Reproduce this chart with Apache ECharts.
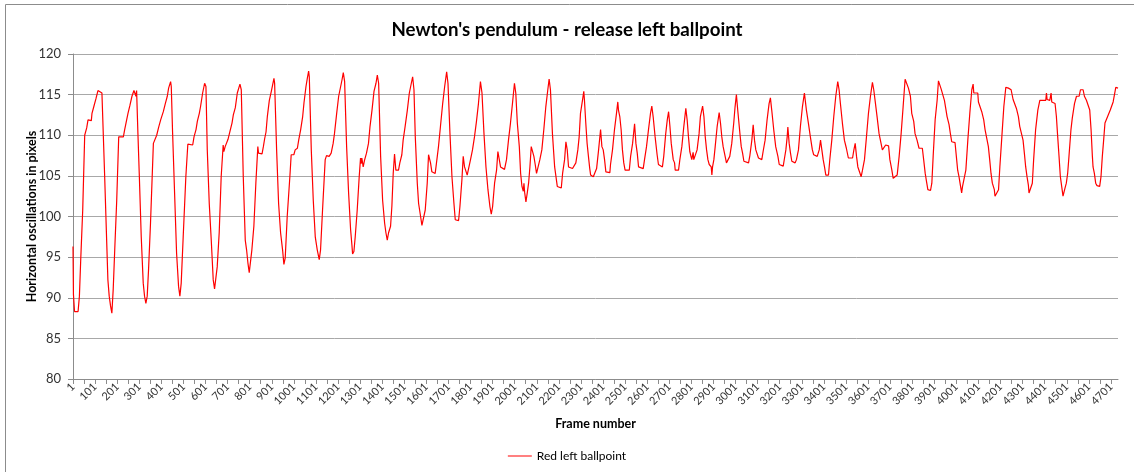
<!DOCTYPE html>
<html>
<head>
<meta charset="utf-8">
<script src="https://cdn.jsdelivr.net/npm/echarts@6/dist/echarts.min.js"></script>
<style>
  html, body { margin: 0; padding: 0; background: #ffffff; }
  #chart { width: 1134px; height: 472px; }
</style>
</head>
<body>
<div id="chart"></div>
<script>
// ---- Data (frame number -> x position in pixels) ----
const FRAME_COUNT = 4733;
const CHART_TITLE = "Newton's pendulum - release left ballpoint";
const SERIES_NAME = "Red left ballpoint";
const X_NAME = "Frame number";
const Y_NAME = "Horizontal oscillations in pixels";

const frames1 = [1,2,3,8,24,30,36,45,54,60,63,69,84,87,96,105,114,123,132,135,144,150,159,165,171,177,183,190,199,208,229,235,241,250,259,268,277,283,286,289,295,301,310,319,325,331,337,343,352,365,374,380,389,398,410,419,428,434,440,443,446,452,461,470,479,485,491,500,512,521,543,549,558,564,573,579,588,597,603,609,618,627,636,642,648,654,663,672,681,684,690,696,703,712,721,727,736,745];
const values1 = [96.3,93.4,90.4,88.3,88.3,90.2,94.7,100.8,110.0,110.2,110.9,111.9,111.8,112.7,113.6,114.5,115.5,115.4,115.2,115.1,105.3,100.0,92.2,90.2,89.0,88.1,91.0,95.9,102.0,109.8,109.8,110.7,111.5,112.7,113.7,114.8,115.5,115.4,114.8,115.5,110.2,105.3,97.5,91.8,90.2,89.3,90.2,93.4,99.2,109.0,109.2,110.0,111.0,111.9,112.9,113.9,114.8,115.8,116.0,116.6,116.0,110.3,102.9,95.5,91.4,90.2,91.8,97.5,104.9,108.9,108.8,109.8,110.7,111.7,112.7,113.6,115.2,116.4,116.0,108.2,101.6,97.1,92.2,91.1,91.2,93.8,98.0,104.9,108.8,108.0,108.6,108.6,109.5,110.5,111.5,112.5,113.4,115.2];

const frames2 = [757,763,772,781,787,793,799,805,811,820,829,838,841,857,863,869,875,881,890,899,905,911,914,923,932,941,950,956,962,971,983,989,1001,1007,1017,1023,1032,1041,1047,1056,1062,1068,1071,1080,1089,1098,1107,1113,1116,1122,1131,1143,1149,1161,1170,1179,1185,1195,1204,1213,1219,1225,1231,1240,1249,1258,1264,1267,1273,1279,1288,1297,1303,1306,1309,1315,1321,1330,1339,1346,1355,1364,1373,1379,1385,1394,1403,1412,1418,1424,1430,1439,1445,1451,1457,1463,1475,1481,1490,1496,1505,1515,1524];
const values2 = [116.3,115.6,104.9,97.1,95.9,94.3,93.1,93.0,95.9,98.8,104.1,108.6,107.8,107.7,108.6,109.6,110.4,112.3,114.3,115.4,116.2,117.0,116.4,108.2,101.6,98.0,95.9,94.1,94.9,100.0,104.9,107.6,107.6,108.2,108.4,109.4,110.7,112.3,114.0,116.0,117.0,117.9,117.2,108.2,102.0,97.5,95.9,95.7,94.7,95.9,100.8,107.0,107.5,107.4,107.8,109.0,110.2,112.7,114.8,116.0,116.8,117.7,116.6,108.6,102.9,98.4,96.5,95.4,95.7,97.5,100.8,104.9,107.2,106.5,107.2,106.1,106.9,107.8,109.0,111.1,113.1,115.4,116.4,117.4,116.4,107.4,102.0,99.2,98.0,97.1,98.0,98.8,101.3,105.3,107.7,105.7,105.7,106.6,107.6,109.4,111.1,113.1,115.2];

const frames3 = [1530,1539,1545,1551,1560,1566,1575,1581,1590,1596,1605,1611,1614,1620,1626,1641,1647,1656,1665,1675,1684,1693,1699,1708,1717,1726,1732,1741,1747,1753,1762,1768,1774,1780,1786,1792,1801,1810,1819,1828,1837,1846,1853,1862,1871,1880,1889,1895,1901,1910,1919,1925,1931,1937,1946,1955,1964,1973,1982,1991,2000,2006,2013,2022,2028,2034,2040,2043,2046,2052,2058,2064,2070,2076,2082,2088,2094,2100,2109,2115,2124,2133,2142,2151,2157,2163,2172,2182,2188,2194,2203,2212,2218,2227,2233,2239,2245,2254,2263,2272,2278,2287,2293];
const values3 = [116.0,117.2,115.6,109.8,104.1,101.6,100.0,98.9,98.9,100.8,104.1,107.6,107.6,106.6,105.5,105.3,106.6,108.6,111.1,113.9,116.0,117.8,116.4,110.2,104.9,101.6,99.6,99.5,99.5,101.2,104.5,107.4,106.1,106.1,105.1,105.1,107.0,108.2,109.8,111.7,113.9,116.6,115.2,110.2,106.1,103.3,101.2,100.3,101.2,104.1,105.7,108.0,108.0,106.1,105.9,105.8,107.0,109.4,111.5,113.9,116.4,115.2,111.5,108.6,105.3,103.7,103.1,104.1,103.0,101.8,102.9,104.1,106.1,108.6,108.6,107.4,106.4,105.3,105.3,107.0,108.2,110.7,113.5,115.6,116.9,115.6,110.2,106.1,104.9,103.7,103.6,103.5,105.3,107.0,109.2,108.2,106.1,106.0,105.9,105.7,106.6,108.2,109.8];

const frames4 = [2299,2308,2314,2317,2323,2329,2335,2341,2345,2357,2366,2372,2381,2390,2396,2402,2408,2414,2432,2435,2444,2453,2462,2468,2471,2477,2483,2489,2495,2501,2520,2526,2535,2544,2550,2556,2562,2583,2589,2598,2607,2616,2622,2628,2637,2646,2652,2670,2676,2685,2692,2698,2704,2710,2719,2725,2728,2743,2749,2758,2767,2776,2782,2788,2794,2800,2803,2809,2812,2821,2827,2836,2842,2852,2858,2864,2870,2876,2882,2891,2894,2897,2903,2909,2918,2927,2933,2939,2945,2954,2960,2969,2975,2984,2993,2999,3005,3011,3021,3027,3033,3039,3060,3066];
const values4 = [112.7,114.3,115.4,114.3,111.5,109.0,107.4,105.9,105.1,104.9,105.0,105.9,108.2,110.7,108.6,108.2,107.0,105.5,105.4,106.4,108.2,110.7,112.7,114.1,113.1,112.3,110.7,108.2,106.6,105.7,105.7,107.4,109.0,111.4,109.0,107.8,106.1,105.9,107.0,108.6,110.7,112.7,113.6,112.3,109.8,107.6,106.4,106.1,107.4,110.2,111.9,112.9,111.1,109.0,107.0,106.6,105.7,105.7,107.0,108.6,111.1,113.3,111.9,109.8,108.0,107.8,107.0,107.9,107.0,107.0,108.2,110.2,112.3,113.6,112.3,109.8,108.2,107.0,106.4,106.1,105.1,106.1,107.0,108.6,111.1,112.8,111.5,109.8,108.6,107.4,106.6,106.6,107.4,109.0,111.5,113.5,115.0,113.1,110.2,108.6,107.8,106.8,106.6,107.5];

const frames5 = [3075,3081,3087,3093,3099,3105,3120,3126,3135,3144,3153,3159,3165,3174,3183,3193,3199,3217,3223,3229,3235,3238,3244,3250,3256,3271,3277,3286,3295,3304,3313,3322,3331,3340,3349,3355,3371,3380,3386,3392,3398,3404,3410,3422,3428,3437,3446,3455,3464,3470,3476,3485,3494,3503,3512,3531,3537,3543,3549,3555,3564,3570,3576,3585,3594,3603,3612,3621,3627,3633,3642,3651,3660,3666,3675,3681,3694,3700,3709,3715,3724,3733,3742,3751,3760,3769,3778,3784,3793,3799,3808,3814,3823,3832];
const values5 = [109.4,111.3,109.4,108.2,108.0,107.2,107.0,108.0,109.4,111.9,113.9,114.6,113.1,110.7,108.6,107.4,106.4,106.2,107.2,108.2,109.8,111.0,109.0,107.8,106.8,106.6,107.0,108.2,111.1,113.5,115.2,113.1,111.5,109.8,108.2,107.6,107.4,108.2,109.4,108.2,107.0,106.1,105.1,105.1,107.0,109.4,112.3,114.8,116.6,115.6,113.9,111.5,109.4,108.4,107.2,107.2,108.2,109.0,107.4,106.1,105.9,104.9,105.7,107.0,109.8,112.7,114.8,116.5,115.6,114.3,112.3,110.2,109.0,108.2,108.1,108.8,108.7,107.0,105.7,104.7,104.5,105.1,107.4,110.2,113.5,116.9,116.8,115.8,114.8,112.7,111.7,110.2,109.4,108.4];

const frames6 = [3847,3853,3860,3866,3872,3884,3890,3896,3905,3914,3920,3929,3932,3941,3947,3953,3959,3968,3974,3980,3995,4001,4007,4013,4019,4025,4029,4038,4044,4053,4062,4071,4077,4080,4098,4101,4110,4116,4125,4131,4140,4146,4152,4158,4164,4173,4176,4185,4192,4198,4207,4216,4225,4237,4249,4258,4267,4273,4282,4288,4297,4303,4309,4315,4321,4327,4330,4339,4345,4351,4360,4370,4379,4406,4409,4412,4424,4430,4433,4448,4454,4460,4466,4472,4478,4484,4490,4493,4499,4505,4511,4520,4526,4536,4545,4557,4563,4566,4575,4581,4590,4599];
const values6 = [108.4,107.0,105.3,104.3,103.3,103.2,104.1,107.4,111.9,114.3,116.7,116.6,115.7,115.6,114.3,113.3,112.3,111.3,110.2,109.2,109.1,107.4,105.7,104.9,103.9,102.9,103.7,103.7,105.7,109.4,112.7,115.6,116.3,115.2,115.2,114.1,114.0,112.9,111.9,110.7,110.7,108.6,107.0,105.3,104.1,103.3,102.5,102.5,103.3,106.1,109.8,113.5,115.9,115.8,115.6,114.4,114.3,113.3,112.3,111.1,111.1,109.4,107.8,106.1,104.9,103.9,102.9,102.9,104.1,107.0,110.7,113.1,114.3,114.3,115.2,114.4,114.3,115.2,114.1,113.9,112.3,109.8,107.4,104.9,103.7,102.5,102.5,103.5,104.1,105.3,107.4,110.7,112.1,113.9,114.8,114.8,115.6,115.8,115.6,114.8,114.3,114.3];

const frames7 = [4605,4611,4617,4620,4626,4632,4638,4650,4656,4662,4668,4674,4683,4686,4695,4698,4707,4711,4720,4723,4729,4733];
const values7 = [113.1,110.7,107.4,106.1,105.3,104.1,103.8,103.7,104.9,107.4,109.4,111.5,111.7,112.3,112.4,113.1,113.3,114.1,114.1,115.9,115.9,115.8];

// ---- Build category axis (frame numbers) and series data ----
const categories = [];
for (let i = 1; i <= FRAME_COUNT; i++) categories.push(String(i));

const allFrames = [].concat(frames1, frames2, frames3, frames4, frames5, frames6, frames7);
const allValues = [].concat(values1, values2, values3, values4, values5, values6, values7);
const seriesData = new Array(FRAME_COUNT).fill(null);
allFrames.forEach(function (f, i) { seriesData[f - 1] = allValues[i]; });

const FONT = 'Lato, "Open Sans", sans-serif';
const chart = echarts.init(document.getElementById('chart'), null, { renderer: 'canvas' });
chart.setOption({
  animation: false,
  backgroundColor: '#ffffff',
  title: {
    text: CHART_TITLE,
    left: 'center',
    top: 15,
    textStyle: { fontFamily: FONT, fontSize: 18.7, fontWeight: 'bold', color: '#000000' }
  },
  graphic: [
    { type: 'line', shape: { x1: 5.5, y1: 4.5, x2: 1134, y2: 4.5 }, style: { stroke: '#8c8c8c', lineWidth: 1 }, silent: true },
    { type: 'line', shape: { x1: 5.5, y1: 4.5, x2: 5.5, y2: 472 }, style: { stroke: '#8c8c8c', lineWidth: 1 }, silent: true }
  ],
  grid: { left: 73, right: 16, top: 54, bottom: 93, containLabel: false },
  legend: {
    top: 445,
    left: 'center',
    itemWidth: 24,
    itemHeight: 10,
    itemGap: 6,
    textStyle: { fontFamily: FONT, fontSize: 12, color: '#000000' },
    data: [{ name: SERIES_NAME, icon: 'path://M0,4.5 L24,4.5 L24,5.5 L0,5.5 Z' }]
  },
  xAxis: {
    type: 'category',
    data: categories,
    boundaryGap: false,
    name: X_NAME,
    nameLocation: 'middle',
    nameGap: 38,
    nameMoveOverlap: false,
    nameTextStyle: { fontFamily: FONT, fontSize: 12.5, fontWeight: 'bold', color: '#000000' },
    axisLine: { show: true, lineStyle: { color: '#8c8c8c', width: 1 } },
    axisTick: { show: true, interval: 49, length: 5, lineStyle: { color: '#8c8c8c' } },
    axisLabel: { interval: 99, rotate: 45, fontFamily: FONT, fontSize: 11, color: '#333333', margin: 6 },
    splitLine: { show: false }
  },
  yAxis: {
    type: 'value',
    min: 80,
    max: 120,
    interval: 5,
    name: Y_NAME,
    nameLocation: 'middle',
    nameGap: 35,
    nameMoveOverlap: false,
    nameTextStyle: { fontFamily: FONT, fontSize: 12.5, fontWeight: 'bold', color: '#000000' },
    axisLine: { show: true, lineStyle: { color: '#8c8c8c', width: 1 } },
    axisTick: { show: true, length: 5, lineStyle: { color: '#8c8c8c' } },
    axisLabel: { fontFamily: FONT, fontSize: 13, color: '#333333', margin: 12 },
    splitLine: { show: true, lineStyle: { color: '#a8a8a8', width: 1 } }
  },
  series: [{
    name: SERIES_NAME,
    type: 'line',
    data: seriesData,
    connectNulls: true,
    showSymbol: false,
    symbol: 'none',
    lineStyle: { color: '#ff0000', width: 1.2 },
    itemStyle: { color: '#ff0000' },
    emphasis: { disabled: true }
  }]
});
</script>
</body>
</html>
